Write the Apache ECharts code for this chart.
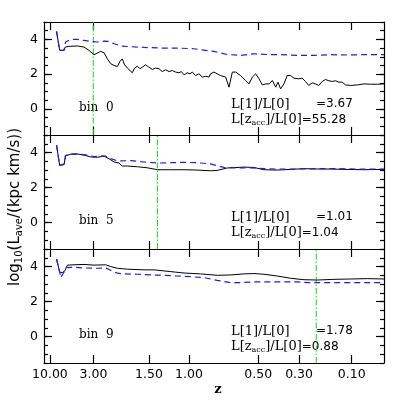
<!DOCTYPE html>
<html><head><meta charset="utf-8">
<script src="https://cdn.jsdelivr.net/npm/echarts@6/dist/echarts.min.js"></script>
<style>html,body{margin:0;padding:0;background:#fff}#c{width:407px;height:407px}</style>
</head><body><div id="c"></div>
<script>
// x axis: cosmic time (Gyr), labelled by redshift
const zTickLabels = ['10.00','3.00','1.50','1.00','0.50','0.30','0.10'];
const zTickTimes = [0.48, 2.18, 4.34, 5.90, 8.60, 10.19, 12.24];
const yTickLabels = [0, 2, 4];
const binNames = ['bin  0', 'bin  5', 'bin  9'];
const ratio1 = ['3.67', '1.01', '1.78'];
const ratioAcc = ['55.28', '1.04', '0.88'];
const zAccTimes = [2.17, 4.67, 10.86];

const bin0Black = [[0.74,4.46],[0.86,3.37],[1.03,3.37],[1.08,3.56],[1.22,3.60],[1.55,3.62],[1.81,3.56],[2.00,3.37],[2.20,3.12],[2.33,3.21],[2.46,3.31],[2.59,3.23],[2.72,2.88],[2.85,2.60],[2.98,2.50],[3.11,2.44],[3.21,2.73],[3.30,2.88],[3.39,2.54],[3.50,2.35],[3.60,2.21],[3.69,2.08],[3.78,2.35],[3.89,2.46],[3.99,2.31],[4.08,2.40],[4.21,2.54],[4.34,2.40],[4.47,2.27],[4.60,2.35],[4.73,2.31],[4.86,2.15],[4.99,2.25],[5.12,2.15],[5.25,2.21],[5.38,2.12],[5.51,2.08],[5.60,2.15],[5.71,1.96],[5.83,2.08],[5.94,2.02],[6.03,2.12],[6.16,1.92],[6.29,2.02],[6.42,1.83],[6.55,1.88],[6.68,1.83],[6.74,2.02],[6.87,2.12],[7.00,2.02],[7.13,1.92],[7.33,1.83],[7.46,1.25],[7.59,2.12],[7.72,2.12],[7.91,1.92],[8.11,1.63],[8.24,1.44],[8.37,1.83],[8.50,2.02],[8.63,1.73],[8.76,1.38],[8.89,1.44],[9.02,1.44],[9.15,1.63],[9.28,1.25],[9.37,1.54],[9.47,1.15],[9.60,1.44],[9.73,1.92],[9.86,1.92],[9.99,1.77],[10.18,1.73],[10.31,1.77],[10.44,1.58],[10.57,1.35],[10.70,1.50],[10.83,1.44],[10.96,1.35],[11.09,1.58],[11.22,1.69],[11.35,1.62],[11.48,1.58],[11.61,1.62],[11.74,1.54],[11.87,1.54],[12.00,1.38],[12.20,1.35],[12.46,1.38],[12.72,1.44],[12.98,1.42],[13.24,1.42],[13.50,1.44]];
const bin0Blue = [[0.74,4.46],[0.86,3.37],[1.03,3.37],[1.09,3.85],[1.29,4.00],[1.55,4.00],[1.81,3.94],[2.07,3.88],[2.33,3.85],[2.59,3.90],[2.78,3.88],[2.98,3.75],[3.24,3.62],[3.63,3.58],[4.15,3.54],[4.80,3.50],[5.45,3.50],[6.09,3.46],[6.87,3.31],[7.39,3.13],[7.91,3.08],[8.43,3.17],[8.95,3.13],[9.47,3.12],[10.12,3.08],[10.77,3.08],[11.42,3.12],[12.07,3.10],[12.72,3.12],[13.50,3.12]];
const bin5Black = [[0.74,4.42],[0.86,3.27],[1.03,3.31],[1.09,3.81],[1.29,3.90],[1.55,3.92],[1.81,3.85],[2.07,3.75],[2.33,3.73],[2.59,3.79],[2.78,3.65],[2.98,3.46],[3.17,3.40],[3.30,3.23],[3.50,3.23],[3.89,3.19],[4.28,3.13],[4.67,3.02],[5.19,3.02],[5.71,3.02],[6.22,3.00],[6.74,2.96],[7.00,2.98],[7.39,3.12],[8.04,3.17],[8.43,3.15],[8.82,3.02],[9.34,3.00],[9.86,3.04],[10.38,3.08],[10.90,3.06],[11.42,3.06],[11.94,3.04],[12.72,3.02],[13.50,3.04]];
const bin5Blue = [[0.74,4.42],[0.86,3.27],[0.96,3.31],[1.06,3.37],[1.08,3.81],[1.16,3.88],[1.42,3.92],[1.68,3.90],[1.94,3.85],[2.20,3.77],[2.46,3.81],[2.65,3.79],[2.85,3.65],[3.04,3.56],[3.24,3.52],[3.63,3.54],[4.15,3.46],[4.67,3.40],[5.19,3.42],[5.71,3.44],[6.22,3.42],[6.74,3.35],[7.26,3.15],[7.78,3.12],[8.30,3.13],[8.82,3.08],[9.34,3.06],[10.12,3.06],[10.90,3.08],[11.68,3.08],[12.46,3.06],[13.50,3.06]];
const bin9Black = [[0.74,4.42],[0.86,3.69],[0.96,3.65],[1.06,3.75],[1.16,4.08],[1.42,4.10],[1.81,4.12],[2.20,4.08],[2.65,4.10],[2.85,4.00],[3.11,3.90],[3.50,3.85],[4.15,3.81],[4.54,3.81],[5.19,3.71],[5.71,3.63],[6.35,3.58],[7.00,3.50],[7.52,3.52],[8.04,3.58],[8.43,3.60],[8.82,3.56],[9.34,3.46],[9.86,3.33],[10.38,3.25],[10.90,3.23],[11.55,3.27],[12.20,3.29],[12.85,3.31],[13.50,3.29]];
const bin9Blue = [[0.74,4.42],[0.86,3.69],[0.90,3.37],[0.96,3.42],[1.06,3.75],[1.13,3.94],[1.42,3.96],[1.81,3.92],[2.20,3.90],[2.65,3.92],[2.85,3.79],[3.11,3.62],[3.37,3.58],[3.89,3.56],[4.41,3.52],[4.93,3.50],[5.45,3.46],[5.96,3.42],[6.48,3.37],[7.00,3.21],[7.52,3.08],[7.91,3.08],[8.43,3.13],[9.08,3.12],[9.60,3.13],[10.12,3.12],[10.64,3.08],[11.29,3.08],[11.94,3.08],[12.59,3.08],[13.50,3.08]];

const blackSeries = [bin0Black, bin5Black, bin9Black];
const blueSeries = [bin0Blue, bin5Blue, bin9Blue];

const X_MIN = 0.25, X_MAX = 13.5, Y_MIN = -1.5, Y_MAX = 5;
const gridTops = [22, 135, 249];
const gridHeights = [113, 114, 114];
const LINE = {color:'#000', width:1.2};
const sans = 'DejaVu Sans';
const serif = 'DejaVu Serif';

const chart = echarts.init(document.getElementById('c'), null, {renderer:'canvas'});
const grid = [], xAxis = [], yAxis = [], series = [], graphic = [];

function zLabel(v){
  let best = 0, d = 1e9;
  zTickTimes.forEach((t,i)=>{ if(Math.abs(t-v)<d){d=Math.abs(t-v);best=i;} });
  return zTickLabels[best];
}

for (let p = 0; p < 3; p++) {
  grid.push({left:44, right:23, top:gridTops[p], height:gridHeights[p], containLabel:false});
  const last = p === 2;
  ['bottom','top'].forEach(pos => {
    xAxis.push({type:'value', gridIndex:p, position:pos, min:X_MIN, max:X_MAX,
      axisLine:{show:true, onZero:false, lineStyle:LINE},
      axisTick:{show:true, inside:true, length:8, customValues:zTickTimes, lineStyle:LINE},
      axisLabel:{show: last && pos==='bottom', customValues:zTickTimes, formatter:zLabel,
        fontFamily:sans, fontSize:12.5, color:'#000', margin:5},
      splitLine:{show:false}});
  });
  ['left','right'].forEach(pos => {
    yAxis.push({type:'value', gridIndex:p, position:pos, min:Y_MIN, max:Y_MAX,
      axisLine:{show:true, onZero:false, lineStyle:LINE},
      axisTick:{show:true, inside:true, length:8, customValues:yTickLabels, lineStyle:LINE},
      axisLabel:{show: pos==='left', customValues:yTickLabels, fontFamily:sans, fontSize:12.5, color:'#000', margin:6},
      splitLine:{show:false}});
    yAxis.push({type:'value', gridIndex:p, position:pos, min:Y_MIN, max:Y_MAX, interval:0.5,
      axisLine:{show:false},
      axisTick:{show:true, inside:true, length:4, lineStyle:LINE},
      axisLabel:{show:false}, splitLine:{show:false}});
  });
  // vertical z_acc marker
  series.push({type:'line', xAxisIndex:p*2, yAxisIndex:p*4, data:[[zAccTimes[p], Y_MIN],[zAccTimes[p], Y_MAX]],
    showSymbol:false, silent:true, lineStyle:{color:'#1ee01e', width:1.1, type:[6,2,1.5,2]}, z:1});
  series.push({type:'line', xAxisIndex:p*2, yAxisIndex:p*4, data:blackSeries[p], showSymbol:false,
    lineStyle:{color:'#000', width:1}, z:2});
  series.push({type:'line', xAxisIndex:p*2, yAxisIndex:p*4, data:blueSeries[p], showSymbol:false,
    lineStyle:{color:'#1a1aff', width:1.2, type:[6,4]}, z:3});

  const base = gridTops[p];
  graphic.push({type:'text', left:79, top:base+80, style:{text:binNames[p], font:'12px "DejaVu Serif"', fill:'#000'}});
  graphic.push({type:'text', left:231, top:base+76, style:{
    text:'{s|L[1]/L[0]}', rich:{s:{fontFamily:serif, fontSize:13, fill:'#000'}}, fill:'#000'}});
  graphic.push({type:'text', left:316, top:base+76, style:{
    text:'{n|=' + ratio1[p] + '}', rich:{n:{fontFamily:sans, fontSize:12, fill:'#000'}}, fill:'#000'}});
  graphic.push({type:'text', left:231, top:base+91, style:{
    text:'{s|L[z}{sub|acc}{s|]/L[0]}{n|=' + ratioAcc[p] + '}',
    rich:{s:{fontFamily:serif, fontSize:13, fill:'#000'}, sub:{fontFamily:serif, fontSize:8, fill:'#000', verticalAlign:'bottom', padding:[6,0,0,0]}, n:{fontFamily:sans, fontSize:12, fill:'#000'}}}});
}

graphic.push({type:'text', x:218, y:390, style:{text:'z', font:'bold 13px "DejaVu Serif"', fill:'#000', textAlign:'center', textVerticalAlign:'middle'}});
graphic.push({type:'text', x:15, y:207, rotation:Math.PI/2, style:{
  text:'{t|log}{sub|10}{t|(L}{sub|ave}{t|/(kpc km/s))}',
  rich:{t:{fontFamily:sans, fontSize:15, fill:'#000'}, sub:{fontFamily:sans, fontSize:10, fill:'#000', padding:[9,0,0,0]}},
  textAlign:'center', textVerticalAlign:'middle'}});

chart.setOption({animation:false, backgroundColor:'#fff', grid, xAxis, yAxis, series, graphic});
</script></body></html>
